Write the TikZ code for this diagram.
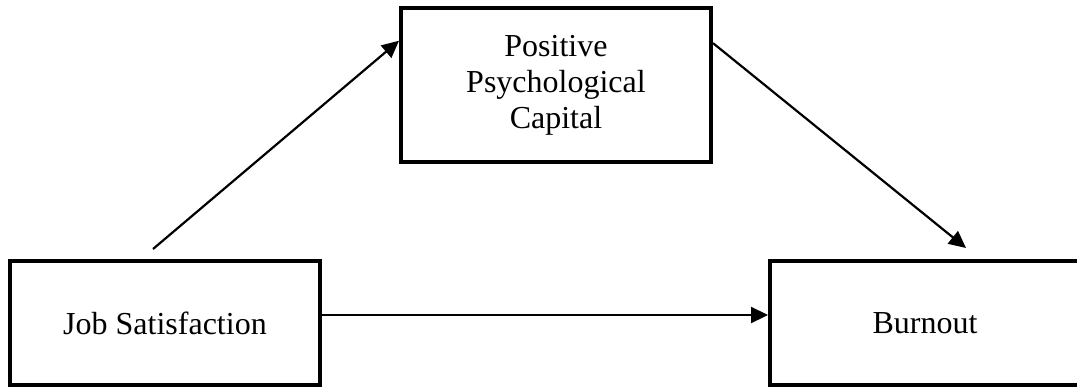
\documentclass[tikz,border=0pt]{standalone}
\usepackage{fontspec}
\setmainfont{Liberation Serif}
\usetikzlibrary{arrows.meta, positioning, calc}

\tikzset{
  varbox/.style={draw, line width=4pt, minimum width=310pt, minimum height=124pt,
    align=center, inner sep=0pt, font=\fontsize{32}{36}\selectfont},
  path/.style={line width=2.2pt, -{Triangle[length=17pt, width=16pt]}}
}

\begin{document}
\begin{tikzpicture}[x=1pt, y=-1pt]
\useasboundingbox (0, 0) rectangle (1077, 391);
\node [varbox] (js) at (165, 323) {Job Satisfaction};
\node [varbox, minimum height=154pt] (ppc) at (556, 85) {Positive\\Psychological\\Capital};
\node [varbox] (bo) at (925, 323) {Burnout};
\coordinate (js-out) at (153, 249);
\coordinate (bo-in) at (966, 248);
\draw [path] (js-out) -- ($(ppc.north west)!0.22!(ppc.south west)$);
\draw [path] ($(ppc.north east)!0.235!(ppc.south east)$) -- (bo-in);
\draw [path] ([yshift=8pt]js.east) -- ([yshift=8pt]bo.west);
\end{tikzpicture}
\end{document}
